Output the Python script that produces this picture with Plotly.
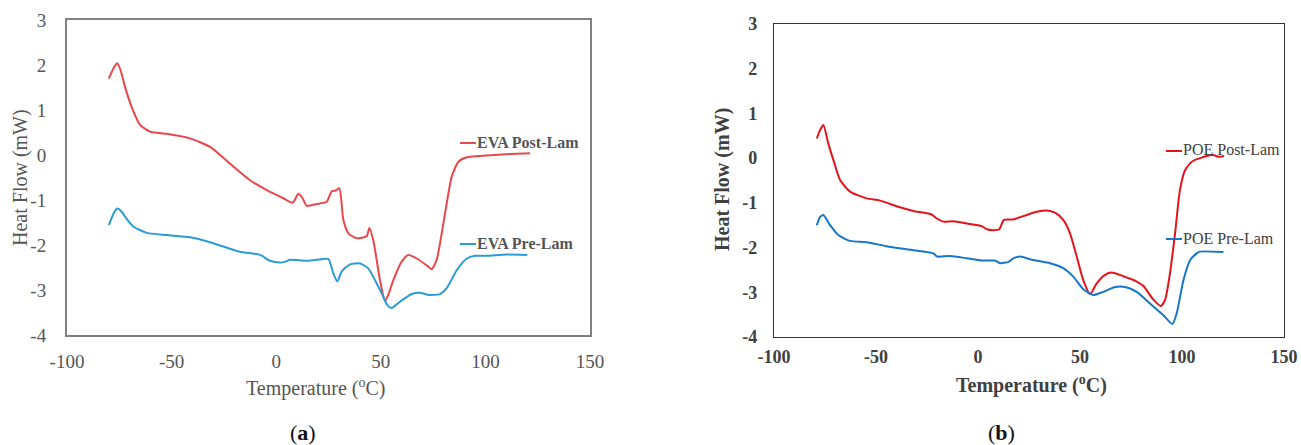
import plotly.graph_objects as go

W, H = 1301, 445

# ---- Data ----
eva_post_T = [-80, -77.5, -76, -74.5, -72.3, -69.1, -65.1, -60.3, -52.3, -41.2, -31.6, -22.1, -12.5, -4.5, 3,
              7.9, 10.6, 12.5, 14.6, 19.4, 24.1, 26.5, 28.5, 30.2, 32.1, 34.5, 38.5, 43.3, 44.5, 46.4, 49.6,
              52.0, 53.5, 56.0, 60.0, 63.1, 67.2, 72.7, 74.3, 76.7, 80.7, 83.9, 87.1, 91.1, 100.6, 111.8, 121.3]
eva_post_hf = [1.70, 1.95, 2.04, 1.90, 1.52, 1.07, 0.67, 0.52, 0.47, 0.37, 0.18, -0.19, -0.56, -0.78, -0.95,
               -1.06, -0.86, -0.95, -1.13, -1.09, -1.04, -0.81, -0.79, -0.74, -1.44, -1.74, -1.85, -1.80, -1.62,
               -1.89, -2.78, -3.24, -3.12, -2.78, -2.37, -2.22, -2.30, -2.48, -2.54, -2.33, -1.30, -0.48, -0.15,
               -0.05, -0.01, 0.02, 0.04]

eva_pre_T = [-80, -77.5, -76, -74, -72.3, -68.3, -61.9, -52.3, -41.2, -30.1, -17.3, -7.7, -3.0, 1.8, 4.5, 6.6,
             14.6, 22.5, 25, 27.3, 29.2, 31.3, 35.3, 40.1, 44.0, 48.0, 51.2, 53.2, 55.2, 57.0, 59.2, 64.8, 68.7,
             72.7, 78.3, 81.5, 86.3, 91.1, 95.1, 100.6, 110.2, 120]
eva_pre_hf = [-1.56, -1.28, -1.19, -1.25, -1.37, -1.59, -1.73, -1.78, -1.83, -1.96, -2.15, -2.22, -2.35, -2.39,
              -2.37, -2.33, -2.35, -2.31, -2.31, -2.63, -2.81, -2.59, -2.43, -2.41, -2.52, -2.85, -3.15, -3.34,
              -3.40, -3.34, -3.26, -3.09, -3.06, -3.11, -3.09, -2.96, -2.56, -2.30, -2.24, -2.24, -2.21, -2.22]

poe_post_T = [-79, -77.5, -75.8, -73.4, -70.9, -67.6, -62.7, -54.6, -48.0, -38.2, -31.7, -22.7, -20.2, -17.0,
              -12.1, -5.5, 1.8, 4.3, 7.5, 10.4, 12.7, 17.3, 23.9, 28.8, 33.7, 37.7, 41.8, 45.1, 48.4, 51.6, 54.9,
              58.2, 62.3, 65.5, 71.2, 77.8, 81.1, 85.9, 89.6, 91.7, 94.1, 96.6, 99.0, 101.5, 104.8, 108.8, 115.3,
              117.8, 120.6]
poe_post_hf = [0.44, 0.62, 0.74, 0.33, -0.04, -0.49, -0.75, -0.90, -0.95, -1.10, -1.18, -1.26, -1.35, -1.42,
               -1.41, -1.46, -1.52, -1.59, -1.61, -1.59, -1.38, -1.37, -1.27, -1.20, -1.17, -1.22, -1.38, -1.68,
               -2.20, -2.73, -3.04, -2.80, -2.61, -2.56, -2.64, -2.76, -2.86, -3.16, -3.31, -3.17, -2.58, -1.68,
               -0.71, -0.27, -0.08, 0.00, 0.07, 0.03, 0.05]

poe_pre_T = [-79, -77.5, -75.8, -72.5, -68.5, -62.7, -54.6, -44.8, -35.0, -21.9, -20.0, -13.7, -5.5, 1.8, 8.3,
             10.8, 14.9, 17.3, 20.6, 27.1, 35.3, 41.8, 46.7, 51.6, 56.5, 61.4, 67.2, 72.1, 77.8, 84.3, 90.8, 95.3,
             97.4, 100.7, 104.0, 107.2, 108.8, 120.3]
poe_pre_hf = [-1.50, -1.32, -1.27, -1.50, -1.72, -1.85, -1.88, -1.97, -2.04, -2.13, -2.20, -2.19, -2.24, -2.29,
              -2.29, -2.35, -2.32, -2.24, -2.20, -2.28, -2.35, -2.46, -2.65, -2.93, -3.06, -2.99, -2.88, -2.88,
              -2.99, -3.25, -3.51, -3.71, -3.47, -2.73, -2.28, -2.13, -2.09, -2.10]

x_ticks = [-100, -50, 0, 50, 100, 150]
x_tick_text = ["-100", "-50", "0", "50", "100", "150"]
y_ticks = [-4, -3, -2, -1, 0, 1, 2, 3]
y_tick_text = ["-4", "-3", "-2", "-1", "0", "1", "2", "3"]

SERIF = "Liberation Serif, Times New Roman, serif"

fig = go.Figure()

def add_line(x, y, color, xa, ya, name):
    fig.add_trace(go.Scatter(x=x, y=y, mode="lines", name=name, xaxis=xa, yaxis=ya,
                             line=dict(color=color, width=2, shape="spline", smoothing=0.6),
                             showlegend=False, hoverinfo="x+y+name"))

add_line(eva_post_T, eva_post_hf, "#e8474b", "x", "y", "EVA Post-Lam")
add_line(eva_pre_T, eva_pre_hf, "#2a9bd6", "x", "y", "EVA Pre-Lam")
add_line(poe_post_T, poe_post_hf, "#e3141b", "x2", "y2", "POE Post-Lam")
add_line(poe_pre_T, poe_pre_hf, "#1577c9", "x2", "y2", "POE Pre-Lam")

ax_a = dict(showgrid=False, zeroline=False, showline=True, mirror=True, linecolor="#808080", linewidth=2,
            ticks="", automargin=False)
ax_b = dict(showgrid=False, zeroline=False, showline=True, mirror=True, linecolor="#333333", linewidth=1.2,
            ticks="", automargin=False)

fa_tick = dict(family=SERIF, size=19, color="#555555")
fb_tick = dict(family=SERIF, size=18, color="#404040", weight="bold")

fig.update_layout(
    width=W, height=H, margin=dict(l=0, r=0, t=0, b=0, autoexpand=False),
    paper_bgcolor="white", plot_bgcolor="white",
    xaxis=dict(**ax_a, domain=[67 / W, 590 / W], range=[-100, 150], tickvals=x_ticks, ticktext=x_tick_text,
               tickfont=fa_tick, ticklabelstandoff=8, anchor="y"),
    yaxis=dict(**ax_a, domain=[1 - 335 / H, 1 - 20 / H], range=[-4, 3], tickvals=y_ticks, ticktext=y_tick_text,
               tickfont=fa_tick, ticklabelstandoff=15, anchor="x"),
    xaxis2=dict(**ax_b, domain=[774 / W, 1284 / W], range=[-100, 150], tickvals=x_ticks, ticktext=x_tick_text,
                tickfont=fb_tick, ticklabelstandoff=3, anchor="y2"),
    yaxis2=dict(**ax_b, domain=[1 - 337 / H, 1 - 24 / H], range=[-4, 3], tickvals=y_ticks, ticktext=y_tick_text,
                tickfont=fb_tick, ticklabelstandoff=12, anchor="x2"),
)

# axis titles
titles = [
    ("Temperature (<sup>o</sup>C)", 315, 387, 0, "normal", "#555555"),
    ("Heat Flow (mW)", 20, 178, -90, "normal", "#555555"),
    ("Temperature (<sup>o</sup>C)", 1031, 384, 0, "bold", "#404040"),
    ("Heat Flow (mW)", 722, 180, -90, "bold", "#404040"),
]
for text, px, py, ang, wt, col in titles:
    fig.add_annotation(xref="paper", yref="paper", x=px / W, y=1 - py / H, xanchor="center", yanchor="middle",
                       showarrow=False, textangle=ang, text=text,
                       font=dict(family=SERIF, size=20, color=col, weight=wt))

# inline series labels with short line keys
labels = [
    ("EVA Post-Lam", "#e8474b", 460, 142, "bold", "#555555"),
    ("EVA Pre-Lam", "#2a9bd6", 460, 243, "bold", "#555555"),
    ("POE Post-Lam", "#e3141b", 1166, 150, "normal", "#404040"),
    ("POE Pre-Lam", "#1577c9", 1166, 238, "normal", "#404040"),
]
for text, col, px, py, wt, tcol in labels:
    fig.add_shape(type="line", xref="paper", yref="paper", x0=px / W, x1=(px + 16) / W,
                  y0=1 - (py + 1) / H, y1=1 - (py + 1) / H, line=dict(color=col, width=2))
    fig.add_annotation(xref="paper", yref="paper", x=(px + 15) / W, y=1 - py / H, xanchor="left",
                       yanchor="middle", showarrow=False, text=text,
                       font=dict(family=SERIF, size=16, color=tcol, weight=wt))

for text, px in [("(<b>a</b>)", 303), ("(<b>b</b>)", 1001)]:
    fig.add_annotation(xref="paper", yref="paper", x=px / W, y=1 - 432 / H, xanchor="center", yanchor="middle",
                       showarrow=False, text=text, font=dict(family=SERIF, size=22, color="#111111"))

fig.write_html("out.html", config={"displayModeBar": False},
               post_script="document.body.style.margin='0';document.body.style.overflow='hidden';")
